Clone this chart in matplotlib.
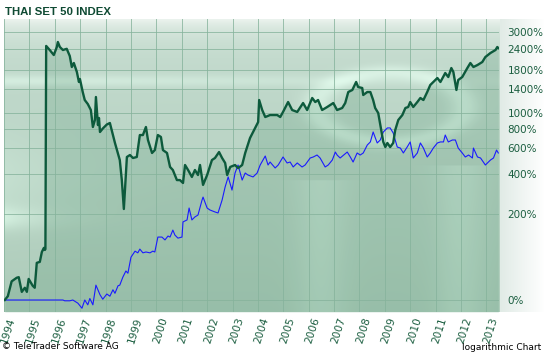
import numpy as np
import matplotlib
matplotlib.use("Agg")
import matplotlib.pyplot as plt
import matplotlib.transforms as mtransforms
from matplotlib import font_manager

# THAI SET 50 index, change in percent (log chart), decimal years
set50_years = [
    1994.03, 1994.15, 1994.30, 1994.50, 1994.58, 1994.70, 1994.82, 1994.90, 1994.97,
    1995.13, 1995.21, 1995.29, 1995.41, 1995.49, 1995.57, 1995.61, 1995.63, 1995.66,
    1995.80, 1995.96, 1996.08, 1996.12, 1996.20, 1996.32, 1996.47, 1996.59, 1996.67,
    1996.75, 1996.87, 1996.95, 1996.99, 1997.10, 1997.18, 1997.30, 1997.42, 1997.50,
    1997.58, 1997.62, 1997.70, 1997.74, 1997.78, 1997.89, 1998.05, 1998.17, 1998.37,
    1998.56, 1998.64, 1998.72, 1998.84, 1998.96, 1999.08, 1999.23, 1999.35, 1999.47,
    1999.59, 1999.67, 1999.83, 1999.94, 2000.06, 2000.18, 2000.26, 2000.42, 2000.54,
    2000.65, 2000.81, 2000.93, 2001.05, 2001.13, 2001.25, 2001.40, 2001.52, 2001.64,
    2001.72, 2001.84, 2002.00, 2002.19, 2002.31, 2002.47, 2002.59, 2002.71, 2002.79,
    2002.91, 2003.10, 2003.22, 2003.38, 2003.50, 2003.69, 2003.89, 2004.01, 2004.05,
    2004.17, 2004.29, 2004.48, 2004.76, 2004.88, 2004.99, 2005.19, 2005.35, 2005.55,
    2005.78, 2005.94, 2006.14, 2006.26, 2006.37, 2006.53, 2006.73, 2006.97, 2007.12,
    2007.32, 2007.44, 2007.56, 2007.72, 2007.87, 2007.95, 2008.11, 2008.15, 2008.31,
    2008.43, 2008.54, 2008.62, 2008.74, 2008.86, 2008.94, 2009.02, 2009.10, 2009.21,
    2009.33, 2009.41, 2009.53, 2009.69, 2009.81, 2009.92, 2010.00, 2010.12, 2010.28,
    2010.40, 2010.52, 2010.67, 2010.79, 2010.91, 2011.07, 2011.19, 2011.38, 2011.50,
    2011.62, 2011.70, 2011.82, 2011.89, 2012.05, 2012.25, 2012.37, 2012.49, 2012.65,
    2012.84, 2012.96, 2013.16, 2013.36, 2013.43, 2013.47,
]
set50_pct = [
    0, 5, 27, 33, 34, 11, 17, 11, 31,
    20, 17, 61, 63, 85, 95, 90, 92, 2494,
    2362, 2209, 2458, 2628, 2458, 2362, 2400, 2180, 1880,
    1984, 1757, 1534, 1598, 1337, 1197, 1132, 1041, 818,
    904, 1248, 841, 930, 761, 800, 848, 866, 648,
    501, 365, 221, 525, 541, 517, 525, 728, 728,
    818, 677, 558, 583, 728, 708, 583, 558, 450,
    429, 365, 365, 348, 464, 429, 384, 429, 396,
    464, 337, 396, 501, 517, 566, 517, 479, 396,
    450, 464, 442, 464, 558, 697, 807, 878, 1197,
    1041, 943, 970, 970, 943, 1013, 1164, 1041, 1013,
    1148, 1041, 1231, 1164, 1197, 1041, 1086, 1148, 1041,
    1071, 1148, 1337, 1375, 1534, 1432, 1413, 1283, 1337,
    1337, 1197, 1071, 998, 783, 658, 610, 648, 610,
    648, 783, 904, 970, 1071, 1086, 1164, 1086, 1164,
    1231, 1197, 1337, 1472, 1534, 1620, 1534, 1733, 1642,
    1854, 1757, 1375, 1576, 1642, 1854, 1984, 1880, 1931,
    2011, 2150, 2269, 2362, 2458, 2425,
]

# comparison series (blue)
comp_years = [
    1994.03, 1996.32, 1996.39, 1996.59, 1996.71, 1996.91, 1997.07, 1997.18, 1997.30,
    1997.38, 1997.50, 1997.62, 1997.78, 1997.89, 1998.05, 1998.17, 1998.29, 1998.37,
    1998.49, 1998.56, 1998.68, 1998.80, 1998.88, 1999.00, 1999.16, 1999.27, 1999.35,
    1999.47, 1999.59, 1999.75, 1999.86, 1999.94, 2000.06, 2000.22, 2000.34, 2000.46,
    2000.54, 2000.65, 2000.73, 2000.85, 2001.01, 2001.05, 2001.21, 2001.29, 2001.40,
    2001.52, 2001.64, 2001.80, 2001.84, 2002.00, 2002.11, 2002.31, 2002.43, 2002.59,
    2002.71, 2002.83, 2002.98, 2003.10, 2003.22, 2003.38, 2003.50, 2003.61, 2003.81,
    2003.97, 2004.09, 2004.29, 2004.40, 2004.48, 2004.68, 2004.80, 2004.99, 2005.15,
    2005.27, 2005.39, 2005.55, 2005.74, 2005.86, 2006.06, 2006.18, 2006.33, 2006.45,
    2006.65, 2006.77, 2006.93, 2007.05, 2007.12, 2007.24, 2007.52, 2007.64, 2007.75,
    2007.91, 2008.03, 2008.15, 2008.31, 2008.43, 2008.54, 2008.70, 2008.82, 2008.94,
    2009.10, 2009.21, 2009.33, 2009.49, 2009.61, 2009.73, 2009.88, 2010.00, 2010.12,
    2010.28, 2010.40, 2010.52, 2010.67, 2010.79, 2010.91, 2011.07, 2011.19, 2011.31,
    2011.38, 2011.50, 2011.66, 2011.78, 2011.89, 2012.05, 2012.17, 2012.30, 2012.45,
    2012.49, 2012.65, 2012.77, 2012.96, 2013.16, 2013.28, 2013.40, 2013.47,
]
comp_pct = [
    0, 0, -1, -1, 0, -4, -10, 0, -6,
    2, -6, 21, 7, 1, 8, 5, 14, 9,
    20, 21, 34, 45, 41, 73, 87, 83, 92,
    83, 85, 83, 87, 85, 124, 124, 116, 127,
    124, 145, 130, 121, 124, 172, 179, 225, 179,
    190, 197, 260, 274, 225, 217, 209, 205, 260,
    326, 384, 309, 409, 464, 365, 409, 396, 384,
    409, 464, 533, 464, 486, 443, 464, 525, 479,
    486, 450, 479, 450, 464, 517, 525, 541, 517,
    450, 464, 501, 566, 541, 517, 566, 525, 486,
    558, 541, 558, 629, 658, 761, 648, 677, 761,
    807, 807, 750, 610, 601, 558, 610, 658, 517,
    558, 648, 601, 525, 558, 601, 648, 658, 658,
    728, 658, 677, 677, 601, 558, 525, 541, 517,
    601, 525, 517, 464, 501, 517, 583, 558,
]

ytick_pct = [0, 200, 400, 600, 800, 1000, 1400, 1800, 2400, 3000]
xtick_years = list(range(1994, 2014))

DARK_GREEN = "#0d5a3c"
LABEL_GREEN = "#1b5e40"
PLOT_RECT = [0.0074, 0.116, 0.910, 0.830]

# narrow bold face for the title, if one is around
installed = {f.name for f in font_manager.fontManager.ttflist}
title_family = "DejaVu Sans"
title_size = 9
for name in ["Liberation Sans Narrow", "DejaVu Sans Condensed"]:
    if name in installed:
        title_family = name
        break
else:
    if "Liberation Sans" in installed:
        title_family = "Liberation Sans"
        title_size = 8.2

fig = plt.figure(figsize=(5.44, 3.53), dpi=100)
fig.patch.set_facecolor("white")

# pale strip behind the right-hand labels
side = fig.add_axes([0.917, 0.116, 0.083, 0.830], zorder=0)
side_grad = np.linspace(0, 1, 64)[None, :, None]
side_img = np.array([0.88, 0.92, 0.90]) * (1 - side_grad) + np.array([1.0, 1.0, 1.0]) * side_grad
side.imshow(np.repeat(side_img, 8, axis=0), aspect="auto", extent=[0, 1, 0, 1])
side.set_axis_off()

# background of the plot area: gradient with a few soft highlights
bg_ax = fig.add_axes(PLOT_RECT, zorder=0)
H, W = 200, 300
u = np.linspace(0, 1, W)[None, :]
w = np.linspace(1, 0, H)[:, None]
c_top = np.array([0.92, 0.95, 0.93])
c_mid = np.array([0.77, 0.86, 0.81])
c_bot = np.array([0.68, 0.80, 0.73])
bg = c_bot + (c_mid - c_bot) * w[..., None]
bg = bg + (c_top - c_mid) * np.exp(-(1 - w) / 0.05)[..., None]
band = 0.08 * np.exp(-((w - 0.79) / 0.02) ** 2) * (1 - 0.8 * u)
band += 0.10 * np.exp(-((w - 0.32) / 0.04) ** 2) * np.exp(-u / 0.08)
band += 0.05 * np.exp(-((w - 0.45) / 0.15) ** 2) * np.exp(-u / 0.15)
r = np.sqrt(((u - 0.78) / 1.0) ** 2 + ((w - 0.70) / 0.8) ** 2)
band += 0.09 * np.exp(-((r - 0.15) / 0.03) ** 2) * (u > 0.58)
band += 0.05 * np.exp(-((u - 0.64) / 0.05) ** 2) * (w < 0.45)
band += 0.05 * np.exp(-((u - 0.92) / 0.05) ** 2) * (w < 0.5)
bg = np.clip(bg + band[..., None], 0, 1)
bg_ax.imshow(bg, aspect="auto", extent=[0, 1, 0, 1], interpolation="bilinear")
bg_ax.set_axis_off()

ax = fig.add_axes(PLOT_RECT, zorder=1)
ax.patch.set_alpha(0)

# log chart of (1 + change)
y1 = 1 + np.array(set50_pct) / 100.0
y2 = 1 + np.array(comp_pct) / 100.0
ymin, ymax = 0.857, 36.6

ax.set_yscale("log")
ax.set_xlim(1994.0, 2013.5)
ax.set_ylim(ymin, ymax)

ax.fill_between(set50_years, y1, ymin, color="#2a7a52", alpha=0.16, lw=0, zorder=1)
ax.plot(comp_years, y2, color="#1a1aff", lw=0.8, zorder=3)
ax.plot(set50_years, y1, color=DARK_GREEN, lw=1.7, zorder=4)

ytick_vals = [1 + p / 100.0 for p in ytick_pct]
ax.set_yticks(ytick_vals)
ax.set_yticklabels([f"{p}%" for p in ytick_pct])
ax.yaxis.set_minor_locator(matplotlib.ticker.NullLocator())
ax.yaxis.tick_right()
ax.set_xticks(xtick_years)

ax.grid(True, color="#86b39c", lw=0.7, alpha=0.8)
for gl in ax.get_xgridlines() + ax.get_ygridlines():
    gl.set_zorder(2)

ax.tick_params(axis="y", length=0, pad=6, labelsize=7.5, labelcolor=LABEL_GREEN)
ax.tick_params(axis="x", length=0, pad=3, labelsize=7.6, labelcolor=LABEL_GREEN)
for s in ax.spines.values():
    s.set_visible(False)

# year labels, nudged a little to the right like the original
ax.set_xticklabels([str(yr) for yr in xtick_years], rotation=72, ha="center", va="top")
shift = mtransforms.ScaledTranslation(4 / 100, 0, fig.dpi_scale_trans)
for lbl in ax.get_xticklabels():
    lbl.set_transform(lbl.get_transform() + shift)

fig.text(0.009, 0.965, "THAI SET 50 INDEX", ha="left", va="center",
         fontsize=title_size, fontweight="bold", color="#0f4a33", family=title_family)
fig.text(0.004, 0.017, "\u00a9 TeleTrader Software AG", ha="left", va="center",
         fontsize=6.5, color="black")
fig.text(0.995, 0.015, "logarithmic Chart", ha="right", va="center",
         fontsize=6.5, color="black")

fig.savefig("out.png", dpi=100)
